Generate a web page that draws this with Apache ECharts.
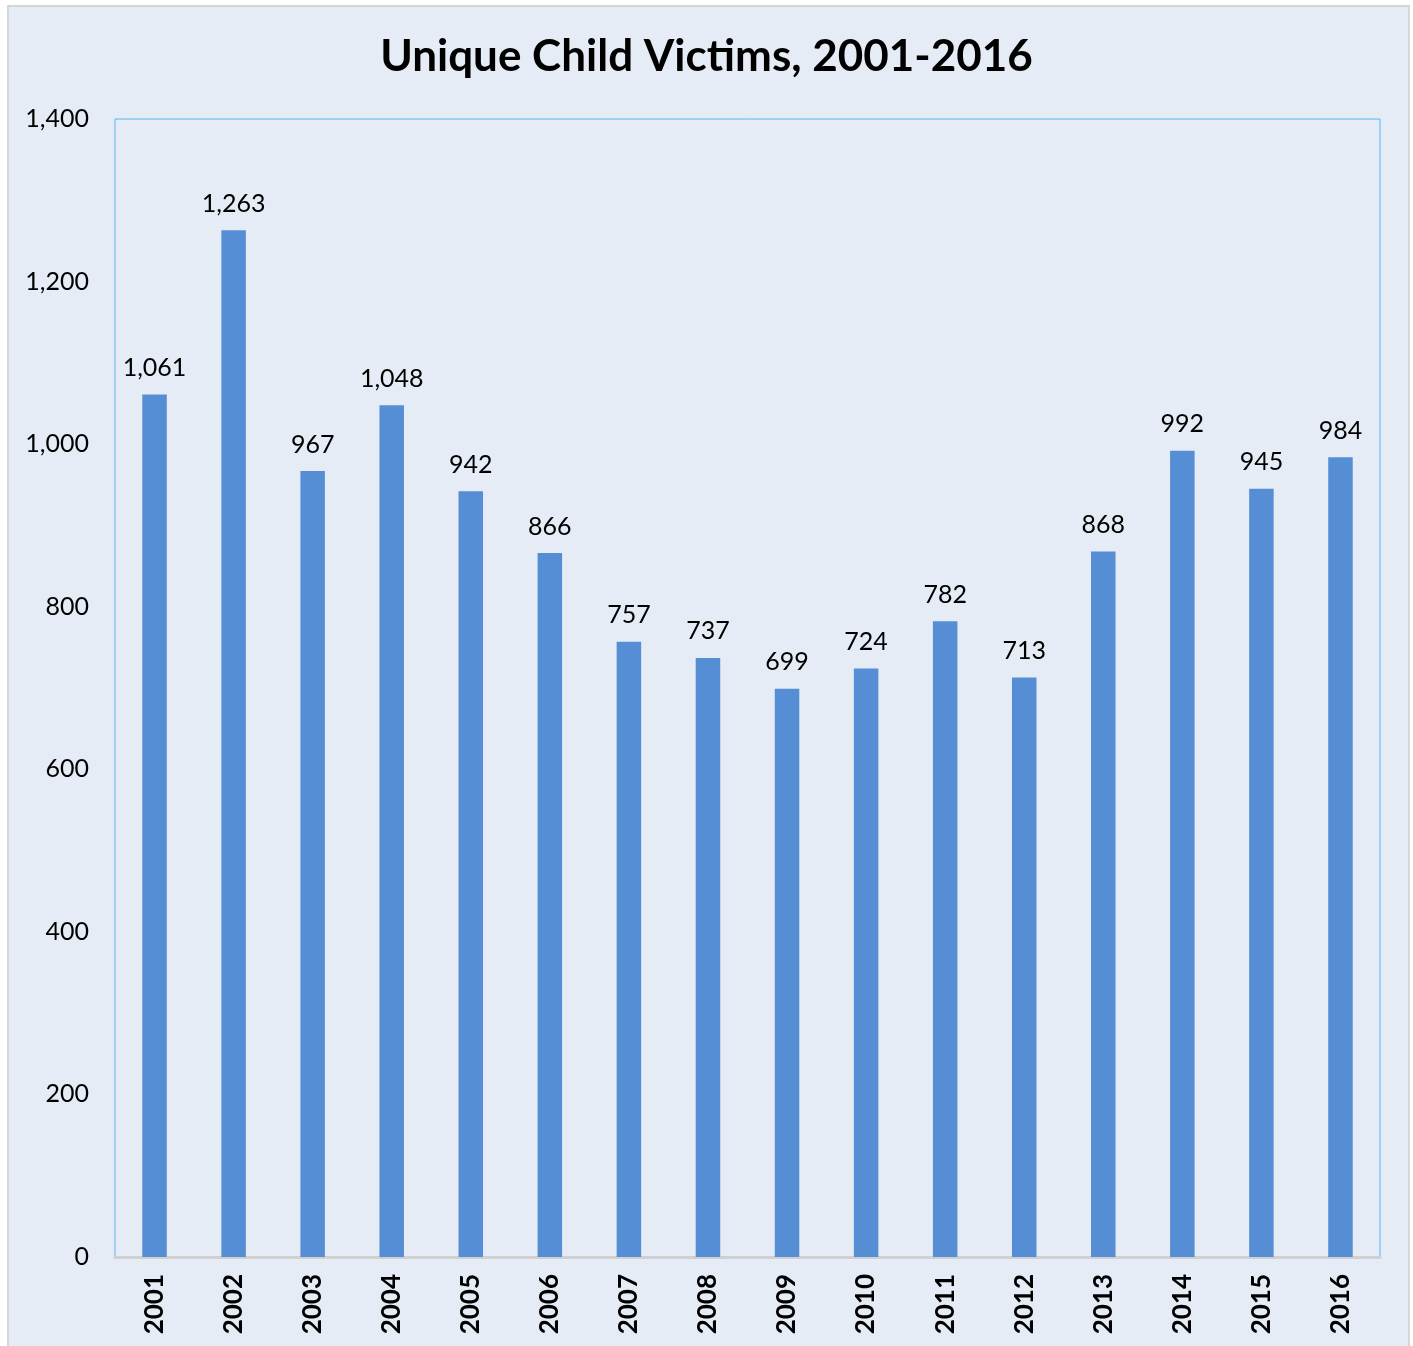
<!DOCTYPE html>
<html><head><meta charset="utf-8">
<script src="https://cdn.jsdelivr.net/npm/echarts@6/dist/echarts.min.js"></script>
<style>html,body{margin:0;padding:0;background:#fff;}#c{width:1413px;height:1346px;}</style>
</head><body><div id="c"></div>
<script>
const years = ['2001','2002','2003','2004','2005','2006','2007','2008','2009','2010','2011','2012','2013','2014','2015','2016'];
const victims = [1061,1263,967,1048,942,866,757,737,699,724,782,713,868,992,945,984];
const yTicks = {min:0, max:1400, interval:200};
const FONT = 'Lato, "Open Sans", sans-serif';
const chart = echarts.init(document.getElementById('c'));
chart.setOption({
  backgroundColor:'#fff',
  graphic:[{type:'rect', z:-10, shape:{x:8,y:6,width:1401,height:1345}, style:{fill:'#E6ECF6', stroke:'#D6D6D6', lineWidth:2}}],
  title:{text:'Unique Child Victims, 2001-2016', left:'center', top:30, textStyle:{fontFamily:FONT, fontWeight:'bold', fontSize:44, color:'#000'}},
  grid:{left:115, top:119, right:33, bottom:89, show:true, borderColor:'#5BB4F0', borderWidth:1, backgroundColor:'transparent'},
  xAxis:{type:'category', data:years,
    axisLine:{show:true, lineStyle:{color:'#D0D0D0', width:3}},
    axisTick:{show:false},
    axisLabel:{rotate:90, margin:17, fontFamily:FONT, fontWeight:'bold', fontSize:26, color:'#000'}},
  yAxis:{type:'value', min:yTicks.min, max:yTicks.max, interval:yTicks.interval,
    splitLine:{show:false}, axisLine:{show:false}, axisTick:{show:false},
    axisLabel:{margin:26, fontFamily:FONT, fontSize:25, color:'#000',
      formatter:v=>v.toLocaleString('en-US')}},
  series:[{type:'bar', data:victims, barWidth:'31%', itemStyle:{color:'#558ED5'},
    label:{show:true, position:'top', distance:14, fontFamily:FONT, fontSize:25, color:'#000',
      formatter:p=>p.value.toLocaleString('en-US')}}]
});
</script></body></html>
